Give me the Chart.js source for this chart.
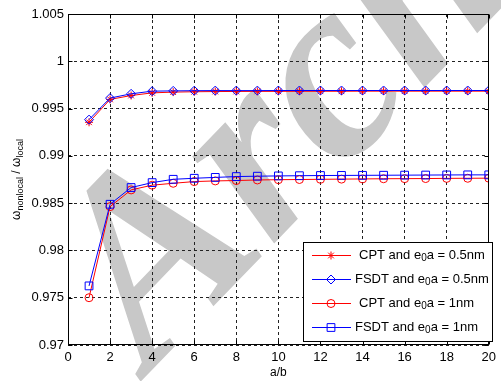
<!DOCTYPE html>
<html lang="en">
  <head>
    <meta charset="UTF-8" />
    <title>Nonlocal frequency ratio</title>
    <style>
      /* page fills the 501x381 window */
      body {
        margin: 0;
        padding: 0;
        background: #fff;
      }

      .chart {
        width: 501px;
        height: 381px;
      }
    </style>
    <script src="https://cdn.jsdelivr.net/npm/chart.js"></script>
  </head>
  <body>
    <div class="chart">
      <canvas id="ratioChart"></canvas>
    </div>

    <script>
      // values
      const aOverB = [1, 2, 3, 4, 5, 6, 7, 8, 9, 10, 11, 12, 13, 14, 15, 16, 17, 18, 19, 20];
      const cptHalf = [0.99355, 0.99597, 0.99638, 0.99666, 0.99674, 0.99678, 0.9968, 0.99681, 0.99682, 0.99682,
        0.99683, 0.99683, 0.99683, 0.99684, 0.99684, 0.99684, 0.99684, 0.99684, 0.99684, 0.99684];
      const fsdtHalf = [0.99383, 0.99611, 0.99656, 0.99684, 0.99687, 0.99689, 0.9969, 0.9969, 0.9969, 0.99691,
        0.99691, 0.99691, 0.99691, 0.99691, 0.99691, 0.99691, 0.99691, 0.99691, 0.99691, 0.99691];
      const cptOne = [0.975, 0.98463, 0.9864, 0.9869, 0.9871, 0.98728, 0.98735, 0.98739, 0.98745, 0.98748,
        0.9875, 0.98752, 0.98754, 0.98756, 0.98758, 0.98759, 0.9876, 0.98762, 0.98763, 0.98764];
      const fsdtOne = [0.97625, 0.98488, 0.98665, 0.98717, 0.98752, 0.98763, 0.98772, 0.98781, 0.98785, 0.98788,
        0.9879, 0.98792, 0.98793, 0.98794, 0.98795, 0.98796, 0.98797, 0.98798, 0.98799, 0.98799];

      const xTicks = [0, 2, 4, 6, 8, 10, 12, 14, 16, 18, 20];
      const yTicks = [0.97, 0.975, 0.98, 0.985, 0.99, 0.995, 1, 1.005];

      const legendLabels = [
        ['CPT and e', '0', 'a = 0.5nm'],
        ['FSDT and e', '0', 'a = 0.5nm'],
        ['CPT and e', '0', 'a = 1nm'],
        ['FSDT and e', '0', 'a = 1nm'],
      ];

      const FONT = 'Liberation Sans, Arial, sans-serif';

      function toPoints(ys) {
        return ys.map((y, i) => ({ x: aOverB[i], y: y }));
      }

      const seriesStyle = [
        { color: '#ff0000', point: 'star', radius: 4, order: 3 },
        { color: '#0000ff', point: 'rectRot', radius: 4.5, order: 2 },
        { color: '#ff0000', point: 'circle', radius: 4, order: 1 },
        { color: '#0000ff', point: 'rect', radius: 5.5, order: 0 },
      ];

      const allSeries = [cptHalf, fsdtHalf, cptOne, fsdtOne];

      const datasets = allSeries.map((ys, i) => ({
        label: legendLabels[i].join(''),
        data: toPoints(ys),
        borderColor: seriesStyle[i].color,
        backgroundColor: 'rgba(0,0,0,0)',
        pointBackgroundColor: 'rgba(0,0,0,0)',
        borderWidth: 1,
        pointStyle: seriesStyle[i].point,
        pointRadius: seriesStyle[i].radius,
        pointBorderColor: seriesStyle[i].color,
        pointBorderWidth: 1,
        order: seriesStyle[i].order,
        tension: 0,
      }));

      // draws text made of [normal, subscript, normal, ...] pieces
      function drawSubText(ctx, parts, x, y, size) {
        let cx = x;
        parts.forEach((p, i) => {
          const sub = i % 2 === 1;
          ctx.font = (sub ? size - 3 : size) + 'px ' + FONT;
          ctx.fillText(p, cx, sub ? y + 3 : y);
          cx += ctx.measureText(p).width;
        });
        return cx - x;
      }

      // big grey watermark behind the plot
      const watermark = {
        id: 'watermark',
        beforeDraw(chart) {
          const ctx = chart.ctx;
          ctx.save();
          ctx.translate(150, 372);
          ctx.rotate(-46 * Math.PI / 180);
          ctx.fillStyle = '#c8c8c8';
          ctx.font = 'italic bold 260px Liberation Serif, serif';
          ctx.textBaseline = 'alphabetic';
          ctx.fillText('Archive', 0, 0);
          ctx.restore();
        },
      };

      // box, inward ticks, y title and legend
      const frame = {
        id: 'frame',
        afterDraw(chart) {
          const ctx = chart.ctx;
          const a = chart.chartArea;
          const xs = chart.scales.x;
          const ys = chart.scales.y;
          ctx.save();
          ctx.strokeStyle = '#000';
          ctx.lineWidth = 1;
          ctx.setLineDash([]);
          const L = Math.round(a.left) + 0.5;
          const R = Math.round(a.right) - 0.5;
          const T = Math.round(a.top) + 0.5;
          const B = Math.round(a.bottom) - 0.5;
          ctx.strokeRect(L, T, R - L, B - T);
          ctx.beginPath();
          xTicks.forEach((v) => {
            const px = Math.round(xs.getPixelForValue(v)) + 0.5;
            ctx.moveTo(px, B); ctx.lineTo(px, B - 4);
            ctx.moveTo(px, T); ctx.lineTo(px, T + 4);
          });
          yTicks.forEach((v) => {
            const py = Math.round(ys.getPixelForValue(v)) + 0.5;
            ctx.moveTo(L, py); ctx.lineTo(L + 4, py);
            ctx.moveTo(R, py); ctx.lineTo(R - 4, py);
          });
          ctx.stroke();

          // y axis title with subscripts
          ctx.save();
          ctx.fillStyle = '#000';
          ctx.textBaseline = 'alphabetic';
          const yParts = ['\u03c9', 'nonlocal', ' / \u03c9', 'local'];
          ctx.translate(20, 0);
          ctx.rotate(-Math.PI / 2);
          let w = 0;
          yParts.forEach((p, i) => {
            ctx.font = (i % 2 ? 9 : 12) + 'px ' + FONT;
            w += ctx.measureText(p).width;
          });
          drawSubText(ctx, yParts, -((a.top + a.bottom) / 2) - w / 2, 0, 12);
          ctx.restore();

          // legend box
          const lx = 303.5, ly = 242.5, lw = 189, lh = 99;
          ctx.fillStyle = '#fff';
          ctx.fillRect(lx, ly, lw, lh);
          ctx.strokeRect(lx, ly, lw, lh);
          const textX = [359, 355, 359, 355];
          legendLabels.forEach((parts, i) => {
            const ry = 255 + i * 24;
            const st = seriesStyle[i];
            ctx.strokeStyle = st.color;
            ctx.lineWidth = 1;
            ctx.beginPath();
            ctx.moveTo(312, ry + 0.5);
            ctx.lineTo(351, ry + 0.5);
            ctx.stroke();
            ctx.fillStyle = 'rgba(0,0,0,0)';
            Chart.helpers.drawPoint(ctx, {
              pointStyle: st.point,
              radius: st.radius,
              rotation: 0,
              borderWidth: 1,
            }, 331, ry + 0.5);
            ctx.fillStyle = '#000';
            ctx.textBaseline = 'middle';
            drawSubText(ctx, parts, textX[i], ry, 13);
          });
          ctx.restore();
        },
      };

      function tickLabel(v) {
        return String(Number(v.toFixed(3)));
      }

      new Chart(document.getElementById('ratioChart'), {
        type: 'line',
        data: { datasets: datasets },
        options: {
          responsive: true,
          maintainAspectRatio: false,
          animation: false,
          layout: { padding: { top: 14, right: 8, left: 0, bottom: 0 } },
          plugins: {
            legend: { display: false },
            tooltip: { enabled: false },
          },
          scales: {
            x: {
              type: 'linear',
              min: 0,
              max: 20,
              afterFit(scale) { scale.height = 36; },
              afterBuildTicks(scale) { scale.ticks = xTicks.map((v) => ({ value: v })); },
              ticks: { color: '#000', padding: 5, font: { family: FONT, size: 13 }, callback: tickLabel },
              grid: { color: '#222', drawTicks: false },
              border: { display: false, dash: [3, 3] },
              title: { display: true, text: 'a/b', color: '#000', font: { family: FONT, size: 12 }, padding: { top: 0, bottom: 1 } },
            },
            y: {
              type: 'linear',
              min: 0.97,
              max: 1.005,
              afterFit(scale) { scale.width = 68; },
              afterBuildTicks(scale) { scale.ticks = yTicks.map((v) => ({ value: v })); },
              ticks: { color: '#000', padding: 4, font: { family: FONT, size: 13 }, callback: tickLabel },
              grid: { color: '#222', drawTicks: false },
              border: { display: false, dash: [3, 3] },
            },
          },
        },
        plugins: [watermark, frame],
      });
    </script>
  </body>
</html>
